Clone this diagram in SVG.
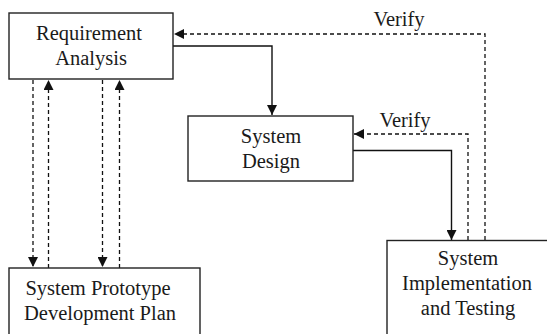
<svg xmlns="http://www.w3.org/2000/svg" width="547" height="334" viewBox="0 0 547 334">
  <style>
    .box { fill: #ffffff; stroke: #222222; stroke-width: 1.4; }
    .lbl { font-family: "Liberation Serif", "DejaVu Serif", serif; font-size: 20.5px; fill: #1a1a1a; text-anchor: middle; }
    .solid { fill: none; stroke: #111111; stroke-width: 1.4; }
    .dash { fill: none; stroke: #111111; stroke-width: 1.3; stroke-dasharray: 4 3; }
  </style>
  <defs>
    <marker id="arrow" viewBox="0 0 10 10" refX="10" refY="5" markerWidth="11" markerHeight="10" markerUnits="userSpaceOnUse" orient="auto">
      <path d="M0,0 L10,5 L0,10 Z" fill="#111111"/>
    </marker>
  </defs>
  <rect width="547" height="334" fill="#ffffff"/>

  <g id="connectors">
    <!-- flow: analysis -> design -> implementation -->
    <path class="solid" d="M173,46 H272 V115" marker-end="url(#arrow)"/>
    <path class="solid" d="M353,150.5 H451.5 V240" marker-end="url(#arrow)"/>
    <!-- verification feedback -->
    <path class="dash" d="M485,240 V34 H174" marker-end="url(#arrow)"/>
    <path class="dash" d="M468,240 V134 H354" marker-end="url(#arrow)"/>
    <!-- prototype plan exchanges -->
    <path class="dash" d="M33,80 V267" marker-end="url(#arrow)"/>
    <path class="dash" d="M48.5,268 V80" marker-end="url(#arrow)"/>
    <path class="dash" d="M102.5,80 V267" marker-end="url(#arrow)"/>
    <path class="dash" d="M119.5,268 V80" marker-end="url(#arrow)"/>
    <text class="lbl" x="399" y="26">Verify</text>
    <text class="lbl" x="405" y="127">Verify</text>
  </g>

  <g id="requirement-analysis">
    <rect class="box" x="9" y="13" width="164" height="66"/>
    <text class="lbl" x="89" y="40">Requirement</text>
    <text class="lbl" x="91" y="65">Analysis</text>
  </g>

  <g id="system-design">
    <rect class="box" x="188" y="116" width="165" height="65"/>
    <text class="lbl" x="271" y="143">System</text>
    <text class="lbl" x="271" y="168">Design</text>
  </g>

  <g id="implementation-testing">
    <rect class="box" x="387" y="240.5" width="170" height="100"/>
    <text class="lbl" x="468" y="265">System</text>
    <text class="lbl" x="467" y="290">Implementation</text>
    <text class="lbl" x="468" y="315">and Testing</text>
  </g>

  <g id="prototype-plan">
    <rect class="box" x="9" y="268" width="191" height="72"/>
    <text class="lbl" x="98" y="295">System Prototype</text>
    <text class="lbl" x="100" y="320">Development Plan</text>
  </g>
</svg>
